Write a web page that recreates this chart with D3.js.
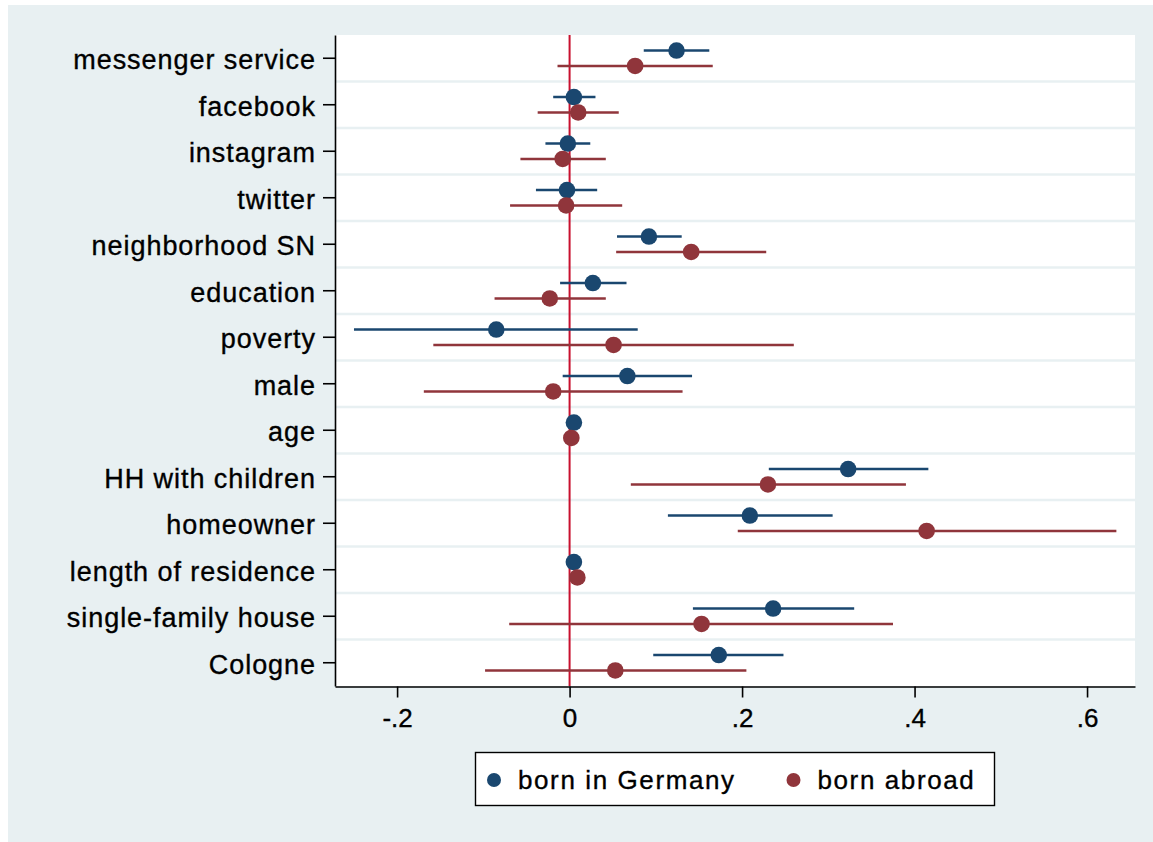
<!DOCTYPE html>
<html>
<head>
<meta charset="utf-8">
<script src="https://cdn.jsdelivr.net/npm/d3@7"></script>
<style>
  body { margin: 0; background: #ffffff; }
  svg { display: block; }
</style>
</head>
<body>
<svg width="1153" height="842"></svg>
<script>
let categories = ["messenger service", "facebook", "instagram", "twitter", "neighborhood SN",
  "education", "poverty", "male", "age", "HH with children", "homeowner",
  "length of residence", "single-family house", "Cologne"];

// born in Germany: estimate, lower and upper bound
let germanyEst = [0.124, 0.005, -0.002, -0.003, 0.092, 0.027, -0.085, 0.067, 0.005, 0.323, 0.209, 0.005, 0.236, 0.173];
let germanyLo  = [0.086, -0.019, -0.028, -0.039, 0.055, -0.011, -0.250, -0.008, 0.003, 0.231, 0.114, 0.003, 0.143, 0.097];
let germanyHi  = [0.162, 0.030, 0.024, 0.032, 0.130, 0.066, 0.079, 0.142, 0.007, 0.416, 0.305, 0.007, 0.330, 0.248];

// born abroad
let abroadEst = [0.076, 0.010, -0.008, -0.004, 0.141, -0.023, 0.051, -0.019, 0.002, 0.230, 0.414, 0.009, 0.153, 0.053];
let abroadLo  = [-0.014, -0.037, -0.057, -0.069, 0.054, -0.087, -0.158, -0.169, -0.001, 0.071, 0.195, 0.006, -0.070, -0.098];
let abroadHi  = [0.166, 0.057, 0.042, 0.061, 0.228, 0.042, 0.260, 0.131, 0.005, 0.390, 0.634, 0.012, 0.375, 0.205];

let xTicks = [-0.2, 0, 0.2, 0.4, 0.6];
let xTickLabels = ["-.2", "0", ".2", ".4", ".6"];
let legendLabels = ["born in Germany", "born abroad"];

let blue = "#1a476f", red = "#90353b";
let font = "Liberation Sans, Arial, Helvetica, sans-serif";

let svg = d3.select("svg");

// graph region background
svg.append("rect")
  .attr("x", 8).attr("y", 5)
  .attr("width", 1145).attr("height", 837)
  .attr("fill", "#e8f0f2");

let x = d3.scaleLinear().domain([-0.272, 0.6556]).range([335, 1135]);
let y = d3.scaleBand().domain(categories).range([35, 686]).padding(0);
let half = y.bandwidth() / 2;

svg.append("rect")
  .attr("x", 335).attr("y", 35)
  .attr("width", 800).attr("height", 651)
  .attr("fill", "#ffffff");

// separators between rows
svg.append("g").selectAll("line")
  .data(categories.slice(1))
  .enter().append("line")
  .attr("x1", 335).attr("x2", 1135)
  .attr("y1", function(c) { return y(c) })
  .attr("y2", function(c) { return y(c) })
  .attr("stroke", "#e8f0f2")
  .attr("stroke-width", 2.5);

// reference line at zero
svg.append("line")
  .attr("x1", x(0)).attr("x2", x(0))
  .attr("y1", 35).attr("y2", 686)
  .attr("stroke", "#c8102e")
  .attr("stroke-width", 2);

let series = [
  { est: germanyEst, lo: germanyLo, hi: germanyHi, color: blue, offset: -7.7 },
  { est: abroadEst, lo: abroadLo, hi: abroadHi, color: red, offset: 7.7 }
];

series.forEach(function(s) {
  let g = svg.append("g");
  g.selectAll("line")
    .data(categories)
    .enter().append("line")
    .attr("x1", function(c, i) { return x(s.lo[i]) })
    .attr("x2", function(c, i) { return x(s.hi[i]) })
    .attr("y1", function(c) { return y(c) + half + s.offset })
    .attr("y2", function(c) { return y(c) + half + s.offset })
    .attr("stroke", s.color)
    .attr("stroke-width", 2.6);
  g.selectAll("circle")
    .data(categories)
    .enter().append("circle")
    .attr("cx", function(c, i) { return x(s.est[i]) })
    .attr("cy", function(c) { return y(c) + half + s.offset })
    .attr("r", 8.3)
    .attr("fill", s.color);
});

// axes
let yAxis = svg.append("g")
  .attr("transform", "translate(335,0)")
  .call(d3.axisLeft(y).tickSize(12).tickSizeOuter(0).tickPadding(7));

let xAxis = svg.append("g")
  .attr("transform", "translate(0,686.5)")
  .call(d3.axisBottom(x).tickValues(xTicks).tickSize(11).tickSizeOuter(0).tickPadding(11)
    .tickFormat(function(d, i) { return xTickLabels[i] }));

[yAxis, xAxis].forEach(function(a) {
  a.select(".domain").attr("stroke", "#000").attr("stroke-width", 1.6);
  a.selectAll(".tick line").attr("stroke", "#000").attr("stroke-width", 1.6);
  a.selectAll("text")
    .attr("fill", "#000")
    .attr("stroke", "#000")
    .attr("stroke-width", 0.35)
    .attr("font-family", font);
});

yAxis.selectAll("text")
  .attr("font-size", 27)
  .attr("letter-spacing", "0.95px")
  .attr("dy", "0.4em");

xAxis.selectAll("text")
  .attr("font-size", 26);

// legend
let legend = svg.append("g");
legend.append("rect")
  .attr("x", 475.5).attr("y", 752.5)
  .attr("width", 519).attr("height", 53)
  .attr("fill", "#ffffff")
  .attr("stroke", "#000")
  .attr("stroke-width", 1.4);

let legendX = [494, 793.5];
legend.selectAll("circle")
  .data(legendLabels)
  .enter().append("circle")
  .attr("cx", function(d, i) { return legendX[i] })
  .attr("cy", 780)
  .attr("r", 7)
  .attr("fill", function(d, i) { return [blue, red][i] });

legend.selectAll("text")
  .data(legendLabels)
  .enter().append("text")
  .attr("x", function(d, i) { return legendX[i] + 24 })
  .attr("y", 789)
  .attr("font-family", font)
  .attr("font-size", 26)
  .attr("letter-spacing", "1.6px")
  .attr("fill", "#000")
  .attr("stroke", "#000")
  .attr("stroke-width", 0.35)
  .text(function(d) { return d });
</script>
</body>
</html>
